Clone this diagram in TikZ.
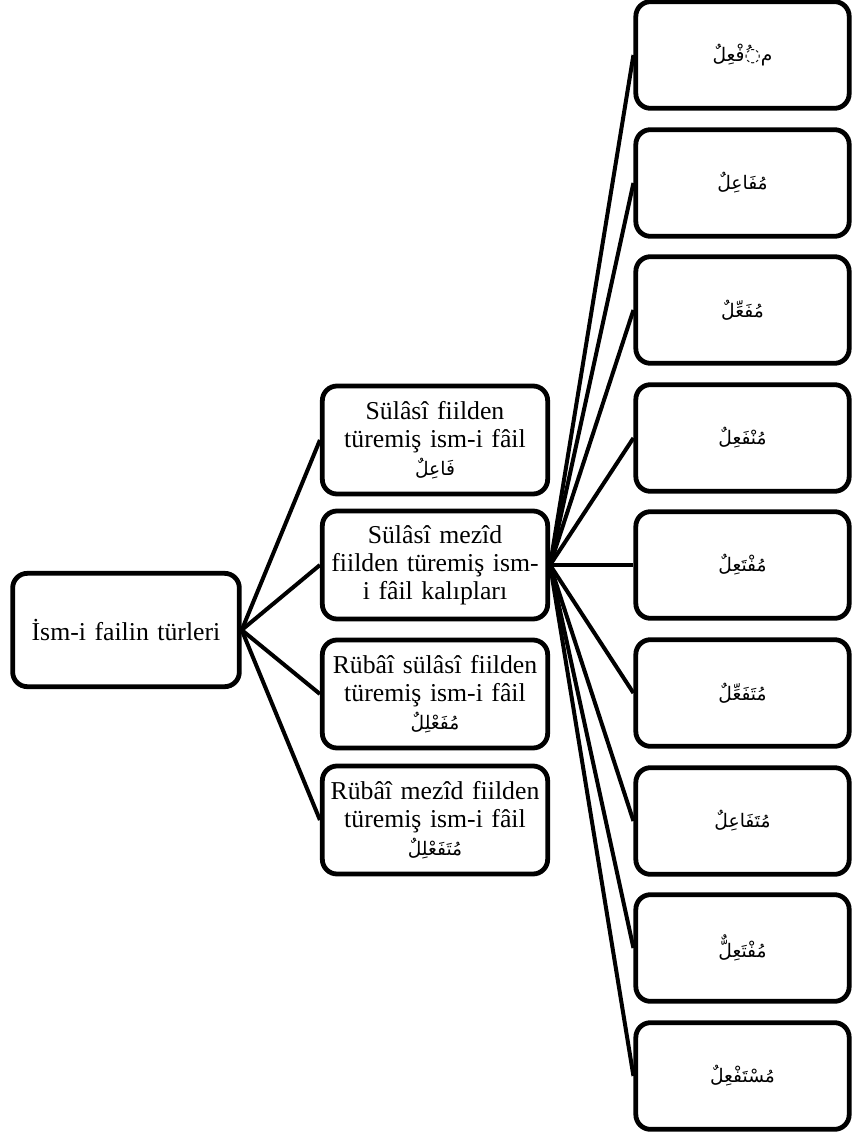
\documentclass[tikz,border=0pt]{standalone}
\usepackage{fontspec}
\setmainfont{Liberation Serif}
\newfontfamily\arabicfont[Script=Arabic]{DejaVu Sans}
\TeXXeTstate=1
% Arabic word set right to left
\newcommand{\arw}[1]{{\arabicfont\fontsize{14}{16}\selectfont\beginR #1\endR}}

\begin{document}
\begin{tikzpicture}[x=0.75pt,y=-0.75pt,
  box/.style={draw, line width=3.6pt, rounded corners=11pt, fill=white,
    align=center, inner sep=0pt, font=\fontsize{19.3}{21}\selectfont},
  rootbox/.style={box, minimum width=170pt, minimum height=85pt, text width=162pt},
  midbox/.style={box, minimum width=169pt, minimum height=81pt, text width=162pt},
  formbox/.style={box, minimum width=160pt, minimum height=80pt, text width=150pt},
  link/.style={line width=3pt}]
\useasboundingbox (0,0) rectangle (852,1137);

% root
\node[rootbox] (root) at (126,630) {İsm-i failin türleri};

% second level
\node[midbox] (m1) at (435,440) {Sülâsî fiilden\\türemiş ism-i fâil\\\arw{فَاعِلٌ}};
\node[midbox] (m2) at (435,565) {Sülâsî mezîd\\fiilden türemiş ism-\\i fâil kalıpları};
\node[midbox] (m3) at (435,694) {Rübâî sülâsî fiilden\\türemiş ism-i fâil\\\arw{مُفَعْلِلٌ}};
\node[midbox] (m4) at (435,820) {Rübâî mezîd fiilden\\türemiş ism-i fâil\\\arw{مُتَفَعْلِلٌ}};

% patterns of the augmented triliteral verb
\node[formbox] (f1) at (742.5,55)   {\arw{م◌ُفْعِلٌ}};
\node[formbox] (f2) at (742.5,183)  {\arw{مُفَاعِلٌ}};
\node[formbox] (f3) at (742.5,310)  {\arw{مُفَعِّلٌ}};
\node[formbox] (f4) at (742.5,438)  {\arw{مُنْفَعِلٌ}};
\node[formbox] (f5) at (742.5,565)  {\arw{مُفْتَعِلٌ}};
\node[formbox] (f6) at (742.5,693)  {\arw{مُتَفَعِّلٌ}};
\node[formbox] (f7) at (742.5,821)  {\arw{مُتَفَاعِلٌ}};
\node[formbox] (f8) at (742.5,948)  {\arw{مُفْتَعِلٌّ}};
\node[formbox] (f9) at (742.5,1076) {\arw{مُسْتَفْعِلٌ}};

% connectors
\foreach \m in {m1,m2,m3,m4}
  \draw[link] (root.east) -- (\m.west);
\foreach \f in {f1,f2,f3,f4,f5,f6,f7,f8,f9}
  \draw[link] (m2.east) -- (\f.west);
\end{tikzpicture}
\end{document}
